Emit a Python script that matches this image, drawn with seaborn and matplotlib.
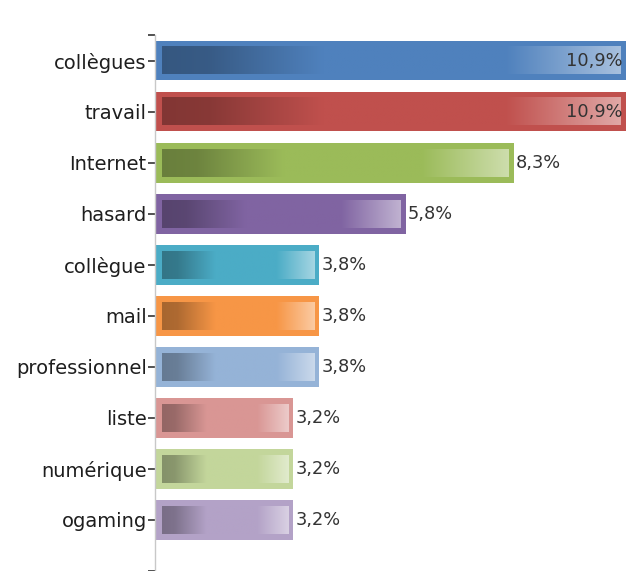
import numpy as np
import pandas as pd
import matplotlib
matplotlib.use("Agg")
import matplotlib.pyplot as plt
import matplotlib.colors as mcolors
import seaborn as sns

# chart data
categories = ["collègues", "travail", "Internet", "hasard", "collègue",
              "mail", "professionnel", "liste", "numérique", "ogaming"]
values = [10.9, 10.9, 8.3, 5.8, 3.8, 3.8, 3.8, 3.2, 3.2, 3.2]
value_labels = ["10,9%", "10,9%", "8,3%", "5,8%", "3,8%",
                "3,8%", "3,8%", "3,2%", "3,2%", "3,2%"]
bar_colors = ["#4F81BD", "#C0504D", "#9BBB59", "#8064A2", "#4BACC6",
              "#F79646", "#95B3D7", "#D99694", "#C3D69B", "#B3A2C7"]


def gradient_cmap(base):
    # dark on the left, plain in the middle, pale on the right
    rgb = np.array(mcolors.to_rgb(base))
    dark = rgb * 0.68
    light = rgb + (1 - rgb) * 0.5
    return mcolors.LinearSegmentedColormap.from_list(
        "g", [(0.0, dark), (0.1, dark * 0.92 + rgb * 0.08), (0.35, rgb),
              (0.75, rgb), (1.0, light)])


def main():
    sns.set_theme(style="white")
    plt.rcParams["font.family"] = ["DejaVu Sans"]

    df = pd.DataFrame({"cat": categories, "val": values})

    W, H = 626, 571
    fig = plt.figure(figsize=(W / 100, H / 100), dpi=100)
    left_px, top_px = 155, 35
    ax = fig.add_axes([left_px / W, 0, 1 - left_px / W, 1 - top_px / H])

    sns.barplot(data=df, x="val", y="cat", hue="cat", palette=bar_colors,
                legend=False, width=0.78, saturation=1, ax=ax, zorder=2)

    xmax = 10.9
    ax.set_xlim(0, xmax)
    ax.set_ylim(10, -0.5)

    # size of one pixel in data units
    ax_w_px = W - left_px
    ax_h_px = H - top_px
    px_x = xmax / ax_w_px
    px_y = 10.5 / ax_h_px

    grad = np.linspace(0, 1, 256).reshape(1, -1)
    for patch, col in zip(ax.patches, bar_colors):
        patch.set_edgecolor("none")
        x0 = patch.get_x()
        y0 = patch.get_y()
        w = patch.get_width()
        h = patch.get_height()
        ax.imshow(grad, cmap=gradient_cmap(col), aspect="auto",
                  extent=[x0 + 7 * px_x, x0 + w - 5 * px_x,
                          y0 + h - 6 * px_y, y0 + 6 * px_y],
                  zorder=3, interpolation="bilinear")

    ax.set_xlim(0, xmax)
    ax.set_ylim(10, -0.5)

    for i, (v, lab) in enumerate(zip(values, value_labels)):
        if v >= 10:
            ax.text(v - 4 * px_x, i, lab, ha="right", va="center",
                    fontsize=12.8, color="#333333", zorder=4)
        else:
            ax.text(v + 2 * px_x, i, lab, ha="left", va="center",
                    fontsize=12.8, color="#333333", zorder=4)

    ax.set_xlabel("")
    ax.set_ylabel("")
    ax.set_xticks([])
    for s in ["top", "right", "bottom"]:
        ax.spines[s].set_visible(False)
    ax.spines["left"].set_color("#C8C8C8")
    ax.spines["left"].set_linewidth(1.0)

    ax.tick_params(axis="y", which="both", left=True, length=5, width=1.2,
                   color="#333333", pad=1, labelsize=14, labelcolor="#1E1E1E")
    ax.set_yticks([-0.5, 10], minor=True)
    ax.tick_params(axis="y", which="minor", length=5, width=1.2,
                   color="#333333")

    fig.savefig("out.png", dpi=100)


if __name__ == "__main__":
    main()
